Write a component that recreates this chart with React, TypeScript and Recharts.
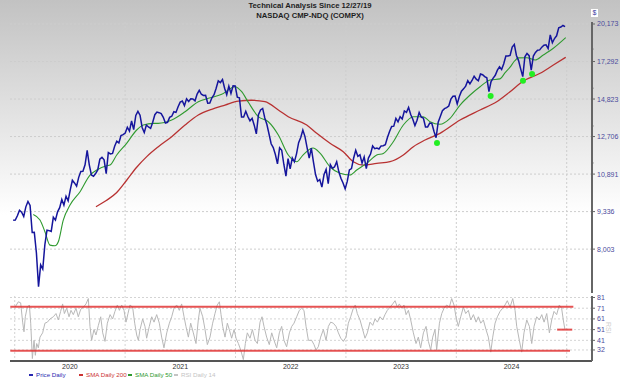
import {
  ComposedChart,
  Line,
  Scatter,
  XAxis,
  YAxis,
  CartesianGrid,
  ReferenceLine,
} from "recharts";

// weekly closes, 12/27/19 .. mid-Dec 2024
const priceStart = 2019.986;
const priceEnd = 2024.985;
const priceValues = [
  9006,
  // 2020
  9020, 9179, 9389, 9315, 9151,
  9520, 9731, 9577, 8567,
  8576, 7875, 6860, 7502,
  7373, 8154, 8650, 8634,
  8605, 9121, 9015, 9325, 9490,
  9814, 9589, 9946, 9757,
  10208, 10617, 10503, 10363, 10745,
  11011, 11019, 11312, 12000,
  11313, 10854, 10794, 10914,
  11075, 11580, 11672, 11548, 10912,
  11895, 11829, 11855, 12206,
  12464, 12378, 12756, 12805, 12888,
  // 2021
  13202, 12998, 13543, 13070,
  13856, 14095, 13874, 13192,
  12920, 13320, 13215, 13138,
  13480, 13900, 14052, 14016, 13962,
  13752, 13430, 13471, 13749,
  13814, 14069, 14030, 14360,
  14639, 14701, 14427, 14837, 14673,
  14835, 14823, 14714, 15129,
  15363, 15115, 15044, 15048,
  14567, 14580, 14897, 15090, 15498,
  15971, 15861, 16057, 15491,
  15085, 15630, 15169, 15653, 15645,
  // 2022
  14936, 14893, 13768, 13770,
  14098, 13791, 13548, 13694,
  13313, 12843, 13893, 14169,
  14261, 13711, 13351, 12839, 12335,
  12145, 11805, 11354, 12131,
  12013, 11340, 10798, 11608,
  11128, 11635, 11452, 11834, 12391,
  12657, 13047, 12705, 12141,
  11631, 12112, 11448, 10868, 10576,
  10652, 10321, 10859, 11102,
  10475, 11323, 11146, 11226,
  11461, 11005, 10705, 10498, 10250,
  // 2023
  10569, 11079, 11140, 11622,
  12007, 11718, 11787, 11395,
  11689, 11139, 11630, 11824, 12222,
  12088, 12123, 12073, 12227,
  12235, 12284, 12658, 12975,
  13241, 13259, 13689, 13492, 13788,
  13661, 14113, 14032, 14316,
  13909, 13644, 13290, 13590,
  14031, 13761, 13708, 13212, 13219,
  13431, 13407, 12984, 12643,
  13478, 13798, 14125, 14250,
  14305, 14404, 14814, 14993, 15011,
  // 2024
  14524, 14973, 15311, 15455,
  15629, 15990, 15776, 15997,
  16275, 16085, 15973, 16429, 16379,
  16249, 16175, 15282, 15928,
  16156, 16341, 16686, 16921, 16735,
  17133, 17689, 17689, 17733,
  18353, 18550, 17727, 17358,
  16776, 16250, 17631, 17877, 17714,
  16690, 17684, 17948, 18119,
  18138, 18343, 18490, 18519,
  18240, 19287, 18680, 19004, 19218,
  19860, 19926, 20050, 19950,
];

const sma50Dates = [
  2020.168, 2020.229, 2020.274, 2020.319, 2020.365, 2020.395, 2020.44, 2020.501,
  2020.592, 2020.682, 2020.743, 2020.833, 2020.863, 2020.924, 2021.014, 2021.105,
  2021.165, 2021.255, 2021.3, 2021.422, 2021.543, 2021.663, 2021.754, 2021.875,
  2021.995, 2022.056, 2022.116, 2022.207, 2022.297, 2022.388, 2022.478, 2022.554,
  2022.611, 2022.702, 2022.765, 2022.856, 2022.946, 2023.037, 2023.098, 2023.188,
  2023.279, 2023.339, 2023.429, 2023.52, 2023.611, 2023.701, 2023.762, 2023.852,
  2023.943, 2024.034, 2024.125, 2024.215, 2024.306, 2024.396, 2024.44, 2024.487,
  2024.53, 2024.562, 2024.638, 2024.713, 2024.788, 2024.879, 2024.991,
];
const sma50Values = [
  9229, 9017, 8594, 8136, 8113, 8247, 9017, 9590,
  10129, 10847, 11073, 11271, 11303, 11777, 12358, 13052,
  13322, 13415, 13415, 13597, 14071, 14660, 14866, 15114,
  15592, 15275, 14624, 13784, 13504, 12786, 11777, 11458,
  11777, 12120, 11874, 11224, 10924, 10847, 11073, 11382,
  11777, 11855, 12439, 13322, 13784, 13784, 13504, 13361,
  13693, 14462, 15070, 15592, 16028, 16100, 16500, 16900,
  17350, 17550, 17565, 17400, 17760, 18256, 19069,
];

const sma200Dates = [
  2020.736, 2020.833, 2020.924, 2021.014, 2021.105, 2021.196, 2021.301, 2021.422,
  2021.543, 2021.663, 2021.784, 2021.905, 2022.025, 2022.147, 2022.267, 2022.388,
  2022.478, 2022.645, 2022.736, 2022.856, 2022.976, 2023.067, 2023.158, 2023.279,
  2023.4, 2023.52, 2023.611, 2023.717, 2023.852, 2024.034, 2024.215, 2024.366,
  2024.487, 2024.607, 2024.759, 2024.879, 2024.991,
];
const sma200Values = [
  9524, 9780, 10100, 10620, 11200, 11700, 12187, 12697,
  13322, 13881, 14210, 14462, 14702, 14748, 14660, 14170,
  13784, 13322, 12875, 12358, 11938, 11458, 11303, 11382,
  11458, 11777, 12187, 12526, 12875, 13597, 14170, 14660,
  15275, 15961, 16475, 17046, 17593,
];

// green markers under the pullback lows
const signalDates = [2023.825, 2024.311, 2024.604, 2024.686];
const signalValues = [12373, 15007, 15981, 16427];

const rsiDates = [
  2020.003, 2020.033, 2020.054, 2020.072, 2020.084, 2020.096, 2020.114, 2020.133, 2020.145, 2020.16,
  2020.175, 2020.187, 2020.199, 2020.214, 2020.229, 2020.253, 2020.274, 2020.296, 2020.32, 2020.35,
  2020.374, 2020.395, 2020.416, 2020.434, 2020.45, 2020.471, 2020.492, 2020.51, 2020.531, 2020.555,
  2020.576, 2020.598, 2020.622, 2020.646, 2020.667, 2020.682, 2020.697, 2020.718, 2020.736, 2020.758,
  2020.779, 2020.797, 2020.818, 2020.839, 2020.864, 2020.887, 2020.908, 2020.93, 2020.948, 2020.969,
  2020.99, 2021.008, 2021.026, 2021.044, 2021.068, 2021.087, 2021.105, 2021.12, 2021.135, 2021.159,
  2021.18, 2021.195, 2021.219, 2021.241, 2021.262, 2021.286, 2021.31, 2021.331, 2021.352, 2021.377,
  2021.401, 2021.422, 2021.443, 2021.467, 2021.491, 2021.512, 2021.534, 2021.551, 2021.573, 2021.594,
  2021.618, 2021.642, 2021.663, 2021.678, 2021.703, 2021.724, 2021.745, 2021.769, 2021.793, 2021.814,
  2021.835, 2021.854, 2021.869, 2021.884, 2021.905, 2021.926, 2021.944, 2021.965, 2021.987, 2022.005,
  2022.026, 2022.047, 2022.071, 2022.089, 2022.107, 2022.131, 2022.153, 2022.177, 2022.198, 2022.222,
  2022.24, 2022.258, 2022.282, 2022.306, 2022.328, 2022.349, 2022.373, 2022.397, 2022.418, 2022.439,
  2022.463, 2022.488, 2022.509, 2022.53, 2022.554, 2022.578, 2022.599, 2022.62, 2022.639, 2022.66,
  2022.69, 2022.711, 2022.729, 2022.75, 2022.771, 2022.796, 2022.82, 2022.841, 2022.862, 2022.886,
  2022.91, 2022.932, 2022.953, 2022.977, 2023.001, 2023.022, 2023.043, 2023.067, 2023.085, 2023.103,
  2023.128, 2023.152, 2023.173, 2023.194, 2023.218, 2023.243, 2023.264, 2023.285, 2023.309, 2023.333,
  2023.354, 2023.375, 2023.4, 2023.424, 2023.445, 2023.466, 2023.484, 2023.505, 2023.526, 2023.545,
  2023.566, 2023.587, 2023.611, 2023.635, 2023.656, 2023.677, 2023.702, 2023.726, 2023.747, 2023.768,
  2023.786, 2023.807, 2023.822, 2023.847, 2023.868, 2023.889, 2023.913, 2023.937, 2023.958, 2023.979,
  2023.997, 2024.018, 2024.04, 2024.064, 2024.085, 2024.109, 2024.131, 2024.155, 2024.179, 2024.2,
  2024.221, 2024.245, 2024.269, 2024.29, 2024.312, 2024.33, 2024.351, 2024.372, 2024.396, 2024.42,
  2024.441, 2024.462, 2024.487, 2024.511, 2024.532, 2024.547, 2024.571, 2024.592, 2024.613, 2024.638,
  2024.662, 2024.683, 2024.704, 2024.728, 2024.752, 2024.774, 2024.795, 2024.819, 2024.843, 2024.864,
  2024.885, 2024.909, 2024.933, 2024.954, 2024.969, 2024.984,
];
const rsiValues = [
  72, 77, 76, 58, 49, 63, 72, 74, 57, 24,
  41, 27, 38, 34, 44, 48, 57, 58, 61, 63,
  66, 60, 68, 75, 66, 71, 63, 69, 65, 71,
  63, 70, 72, 75, 80, 54, 41, 51, 46, 55,
  63, 48, 40, 57, 65, 61, 68, 74, 69, 74,
  69, 58, 66, 74, 72, 57, 46, 41, 51, 61,
  54, 43, 54, 63, 58, 65, 57, 44, 34, 48,
  57, 63, 71, 74, 69, 75, 63, 54, 44, 57,
  48, 38, 60, 71, 63, 51, 37, 44, 57, 66,
  74, 77, 65, 54, 44, 57, 51, 43, 51, 43,
  38, 32, 23, 38, 48, 43, 51, 41, 38, 58,
  63, 54, 44, 37, 48, 41, 34, 48, 54, 41,
  35, 48, 54, 57, 63, 69, 71, 69, 54, 41,
  41, 37, 32, 35, 44, 51, 41, 54, 58, 57,
  54, 48, 43, 40, 44, 57, 63, 71, 74, 66,
  60, 51, 43, 48, 58, 55, 61, 58, 63, 60,
  65, 69, 72, 75, 78, 72, 75, 71, 74, 65,
  69, 60, 48, 38, 44, 34, 48, 54, 40, 32,
  44, 51, 32, 57, 66, 71, 74, 72, 80, 74,
  63, 54, 63, 72, 66, 69, 60, 65, 58, 63,
  57, 60, 51, 44, 30, 44, 57, 63, 68, 71,
  74, 78, 72, 80, 69, 54, 41, 30, 48, 60,
  54, 38, 54, 63, 60, 65, 58, 66, 48, 60,
  68, 65, 74, 71, 60, 51,
];

const yearTicks = [2020, 2021, 2022, 2023, 2024, 2025];
const yearLabelTicks = [2020.5, 2021.5, 2022.5, 2023.5, 2024.5];
const priceTicks = [8003, 9336, 10891, 12706, 14823, 17292, 20173];
const priceMinorTicks = [11400, 13270, 15500, 18200];
const rsiTicks = [32, 41, 51, 61, 71, 81];
const rsiUpper = 72.4;
const rsiLower = 31.3;
const rsiLast = 51;

const xDomain = [2019.9574, 2025.229];

const priceData = priceValues.map((v, i) => ({
  x: priceStart + (i * (priceEnd - priceStart)) / (priceValues.length - 1),
  v,
}));
const sma50Data = sma50Dates.map((x, i) => ({ x, v: sma50Values[i] }));
const sma200Data = sma200Dates.map((x, i) => ({ x, v: sma200Values[i] }));
const signalData = signalDates.map((x, i) => ({ x, v: signalValues[i] }));
const rsiData = rsiDates
  .slice(0, Math.min(rsiDates.length, rsiValues.length))
  .map((x, i) => ({ x, v: rsiValues[i] }));

const font = '"Liberation Sans", Arial, sans-serif';

function AxisTick({ x, y, payload, minor }: any) {
  const isMinor = minor.includes(payload.value);
  return (
    <g>
      <line
        x1={x - 5}
        x2={x - (isMinor ? 3.5 : 2)}
        y1={y}
        y2={y}
        stroke="#666"
      />
      {!isMinor && (
        <text
          x={x}
          y={y}
          dy={2.5}
          fontSize={7}
          fontFamily={font}
          fill="#4b4b9c"
          textAnchor="start"
        >
          {payload.value.toLocaleString("en-US")}
        </text>
      )}
    </g>
  );
}

function SignalDot({ cx, cy }: any) {
  return <circle cx={cx} cy={cy} r={3} fill="#22ee22" />;
}

const legendItems = [
  { label: "Price Daily", color: "#2727b0", left: 29 },
  { label: "SMA Daily 200", color: "#cc3333", left: 79 },
  { label: "SMA Daily 50", color: "#2f9a2f", left: 128 },
  { label: "RSI Daily 14", color: "#c4c4c4", left: 174 },
];

export default function App() {
  return (
    <div
      style={{
        position: "absolute",
        left: 0,
        top: 0,
        width: 620,
        height: 379,
        overflow: "hidden",
        fontFamily: font,
        background: "linear-gradient(to bottom, #c2c2c2 0px, #ffffff 215px)",
      }}
    >
      <div
        style={{
          position: "absolute",
          top: 1,
          left: 0,
          width: 620,
          textAlign: "center",
          fontSize: 7.7,
          fontWeight: "bold",
          color: "#1e1e1e",
          lineHeight: "10px",
        }}
      >
        <div>Technical Analysis Since 12/27/19</div>
        <div>NASDAQ CMP-NDQ (COMPX)</div>
      </div>

      <div
        style={{
          position: "absolute",
          left: 591,
          top: 9,
          width: 7,
          height: 8,
          background: "#fff",
          color: "#3a3aa0",
          fontSize: 7,
          lineHeight: "8px",
          textAlign: "center",
        }}
      >
        $
      </div>

      <div style={{ position: "absolute", left: 0, top: 0 }}>
        <ComposedChart
          width={620}
          height={300}
          margin={{ top: 22, right: 0, bottom: 7, left: 10 }}
        >
          <CartesianGrid
            verticalValues={yearTicks}
            horizontalValues={priceTicks}
            stroke="#cdcdcd"
            strokeDasharray="2 2"
          />
          <XAxis
            dataKey="x"
            type="number"
            domain={xDomain}
            allowDataOverflow
            hide
          />
          <YAxis
            orientation="right"
            width={28}
            scale="log"
            domain={[6683, 20339]}
            allowDataOverflow
            ticks={[...priceTicks, ...priceMinorTicks]}
            interval={0}
            tickLine={false}
            tickSize={3}
            tickMargin={2}
            axisLine={{ stroke: "#666", strokeWidth: 2 }}
            tick={(p: any) => <AxisTick {...p} minor={priceMinorTicks} />}
          />
          <Line
            data={sma200Data}
            dataKey="v"
            type="monotone"
            stroke="#b83232"
            strokeWidth={1.3}
            dot={false}
            activeDot={false}
            isAnimationActive={false}
          />
          <Line
            data={sma50Data}
            dataKey="v"
            type="monotone"
            stroke="#2f9a2f"
            strokeWidth={1.1}
            dot={false}
            activeDot={false}
            isAnimationActive={false}
          />
          <Line
            data={priceData}
            dataKey="v"
            stroke="#15159c"
            strokeWidth={1.5}
            dot={false}
            activeDot={false}
            isAnimationActive={false}
          />
          <Scatter
            data={signalData}
            dataKey="v"
            shape={<SignalDot />}
            isAnimationActive={false}
          />
        </ComposedChart>
      </div>

      <div style={{ position: "absolute", left: 0, top: 290 }}>
        <ComposedChart
          width={620}
          height={89}
          margin={{ top: 6, right: 0, bottom: 0, left: 10 }}
        >
          <CartesianGrid
            verticalValues={yearTicks}
            horizontalValues={rsiTicks}
            stroke="#d4d4d4"
            strokeDasharray="2 2"
          />
          <XAxis
            dataKey="x"
            type="number"
            domain={xDomain}
            allowDataOverflow
            height={18}
            ticks={yearLabelTicks}
            interval={0}
            tickFormatter={(v: number) => String(Math.floor(v))}
            tickLine={false}
            tickSize={0}
            tickMargin={3}
            axisLine={{ stroke: "#555", strokeWidth: 2 }}
            tick={{ fontSize: 7, fill: "#333", fontFamily: font }}
          />
          <YAxis
            orientation="right"
            width={28}
            domain={[21.7, 82.4]}
            allowDataOverflow
            ticks={rsiTicks}
            interval={0}
            tickLine={false}
            tickSize={3}
            tickMargin={2}
            axisLine={{ stroke: "#666", strokeWidth: 2 }}
            tick={(p: any) => <AxisTick {...p} minor={[]} />}
          />
          <Line
            data={rsiData}
            dataKey="v"
            stroke="#b8b8b8"
            strokeWidth={1}
            dot={false}
            activeDot={false}
            isAnimationActive={false}
          />
          <ReferenceLine
            segment={[
              { x: 2019.96, y: rsiUpper },
              { x: 2025.06, y: rsiUpper },
            ]}
            stroke="#e02828"
            strokeOpacity={0.8}
            strokeWidth={2}
          />
          <ReferenceLine
            segment={[
              { x: 2019.96, y: rsiLower },
              { x: 2025.03, y: rsiLower },
            ]}
            stroke="#e02828"
            strokeOpacity={0.8}
            strokeWidth={2}
          />
          <ReferenceLine
            segment={[
              { x: 2024.913, y: rsiLast },
              { x: 2025.05, y: rsiLast },
            ]}
            stroke="#e02828"
            strokeOpacity={0.8}
            strokeWidth={2}
          />
        </ComposedChart>
      </div>

      <div
        style={{
          position: "absolute",
          left: 612,
          top: 322,
          fontSize: 7,
          color: "#cfcfcf",
          transform: "rotate(90deg)",
          transformOrigin: "left top",
          whiteSpace: "nowrap",
        }}
      >
        RSI
      </div>

      {legendItems.map((item) => (
        <div
          key={item.label}
          style={{
            position: "absolute",
            left: item.left,
            top: 371,
            fontSize: 6.2,
            lineHeight: "8px",
            color: item.color,
            whiteSpace: "nowrap",
          }}
        >
          <span
            style={{
              display: "inline-block",
              width: 4,
              height: 2,
              background: item.color,
              marginRight: 3,
              verticalAlign: "middle",
            }}
          />
          {item.label}
        </div>
      ))}
    </div>
  );
}
